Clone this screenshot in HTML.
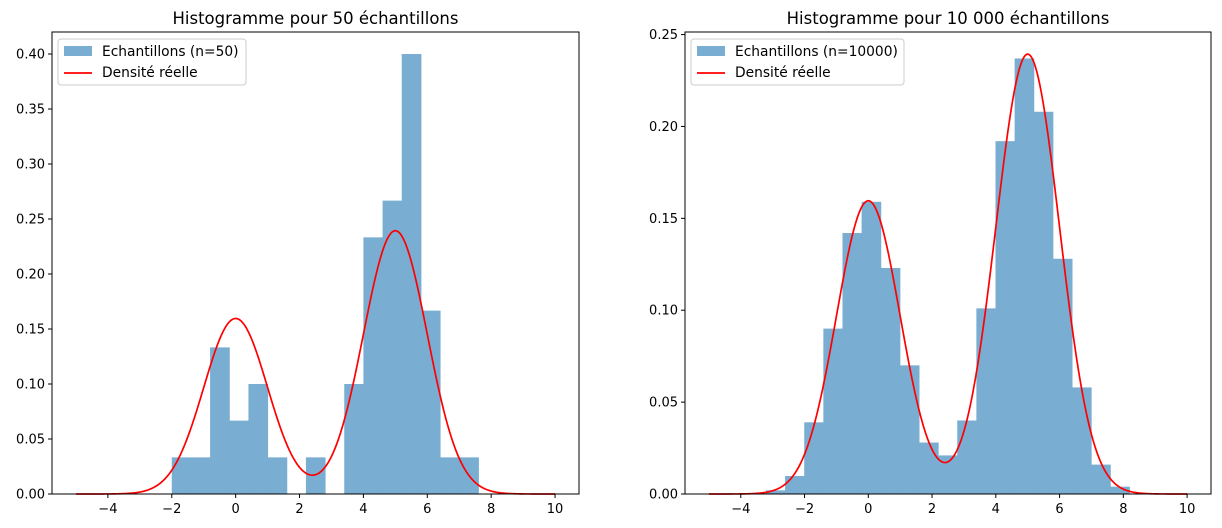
<!DOCTYPE html>
<html><head><meta charset="utf-8"><style>
body{margin:0;background:#fff;}
svg{display:block;font-family:"DejaVu Sans","Liberation Sans",sans-serif;}
</style></head><body>
<svg id="fig" width="1222" height="528"></svg>
<script>
const NS="http://www.w3.org/2000/svg";
// Left histogram data (n=50)
const leftEdgeStart=-2, leftBinWidth=0.6;
const leftDensities=[0.0333,0.0333,0.1333,0.0667,0.1,0.0333,0,0.0333,0,0.1,0.2333,0.2667,0.4,0.1667,0.0333,0.0333];
const leftYTicks=[0,0.05,0.1,0.15,0.2,0.25,0.3,0.35,0.4];
// Right histogram data (n=10000)
const rightEdgeStart=-3.21, rightBinWidth=0.6;
const rightDensities=[0.002,0.0098,0.039,0.090,0.142,0.159,0.123,0.070,0.028,0.021,0.040,0.101,0.192,0.237,0.208,0.128,0.058,0.016,0.004];
const rightYTicks=[0,0.05,0.1,0.15,0.2,0.25];
const xTicks=[-4,-2,0,2,4,6,8,10];
// True density mixture parameters
const mixWeights=[0.4,0.6];
const mixMeans=[0,5];
const mixSds=[1,1];
const curveRange=[-5,10];

const svg=document.getElementById('fig');
function el(tag,attrs,parent){const e=document.createElementNS(NS,tag);for(const k in attrs)e.setAttribute(k,attrs[k]);(parent||svg).appendChild(e);return e;}
function dens(x){let s=0;for(let i=0;i<mixWeights.length;i++){const z=(x-mixMeans[i])/mixSds[i];s+=mixWeights[i]*Math.exp(-0.5*z*z)/(mixSds[i]*Math.sqrt(2*Math.PI));}return s;}

function panel(cfg){
  const g=el('g',{});
  
  
  const L=cfg.left,R=cfg.right,T=32,B=494;
  const xs=v=>L+(v-(-5.75))/(16.5)*(R-L);
  const ys=v=>B-v/cfg.ymax*(B-T);
  cfg.dens.forEach((d,i)=>{
    if(d<=0)return;
    const x0=cfg.start+i*cfg.bw,x1=x0+cfg.bw;
    const r=el('rect',{x:xs(x0),y:ys(d),width:xs(x1)-xs(x0)+0.5,height:ys(0)-ys(d),fill:'#79add2'},g);
    
    
  });
  let pts=[];
  for(let k=0;k<=400;k++){const x=curveRange[0]+(curveRange[1]-curveRange[0])*k/400;pts.push(xs(x).toFixed(2)+','+ys(dens(x)).toFixed(2));}
  const pl=el('polyline',{points:pts.join(' '),fill:'none',stroke:'#ff0000','stroke-width':1.7},g);
  
  
  const fr=el('rect',{x:L,y:T,width:R-L,height:B-T,fill:'none',stroke:'#000','stroke-width':1},g);
  
  
  xTicks.forEach(t=>{
    const x=xs(t);
    el('line',{x1:x,y1:B,x2:x,y2:B+4,stroke:'#000'},g);
    const tx=el('text',{x:x,y:B+19,'text-anchor':'middle','font-size':13,fill:'#000'},g);
    tx.textContent=(t<0?'\u2212'+(-t):t);
    
    
  });
  cfg.yticks.forEach(t=>{
    const y=ys(t);
    el('line',{x1:L-4,y1:y,x2:L,y2:y,stroke:'#000'},g);
    const tx=el('text',{x:L-7,y:y+4.5,'text-anchor':'end','font-size':13,fill:'#000'},g);
    tx.textContent=t.toFixed(2);
    
    
  });
  const ti=el('text',{x:(L+R)/2,y:24,'text-anchor':'middle','font-size':16.5,fill:'#000'},g);
  ti.textContent=cfg.title;
  
  
  const lg=el('g',{},g);
  
  
  el('rect',{x:L+6,y:T+7,width:cfg.legW,height:46,rx:3,fill:'#fff','fill-opacity':0.8,stroke:'#ccc'},lg);
  el('rect',{x:L+12,y:T+14,width:28,height:10,fill:'#79add2'},lg);
  el('line',{x1:L+12,y1:T+41,x2:L+40,y2:T+41,stroke:'#ff0000','stroke-width':1.7},lg);
  const t1=el('text',{x:L+50,y:T+24,'font-size':13.8,fill:'#000'},lg);t1.textContent=cfg.label;
  
  
  const t2=el('text',{x:L+50,y:T+45,'font-size':13.8,fill:'#000'},lg);t2.textContent='Densité réelle';
  
  
}
panel({name:'left-chart',left:52,right:579,ymax:0.42,dens:leftDensities,start:leftEdgeStart,bw:leftBinWidth,yticks:leftYTicks,title:'Histogramme pour 50 échantillons',label:'Echantillons (n=50)',legW:188});
panel({name:'right-chart',left:685,right:1211,ymax:0.2514,dens:rightDensities,start:rightEdgeStart,bw:rightBinWidth,yticks:rightYTicks,title:'Histogramme pour 10 000 échantillons',label:'Echantillons (n=10000)',legW:213});
</script>
</body></html>
